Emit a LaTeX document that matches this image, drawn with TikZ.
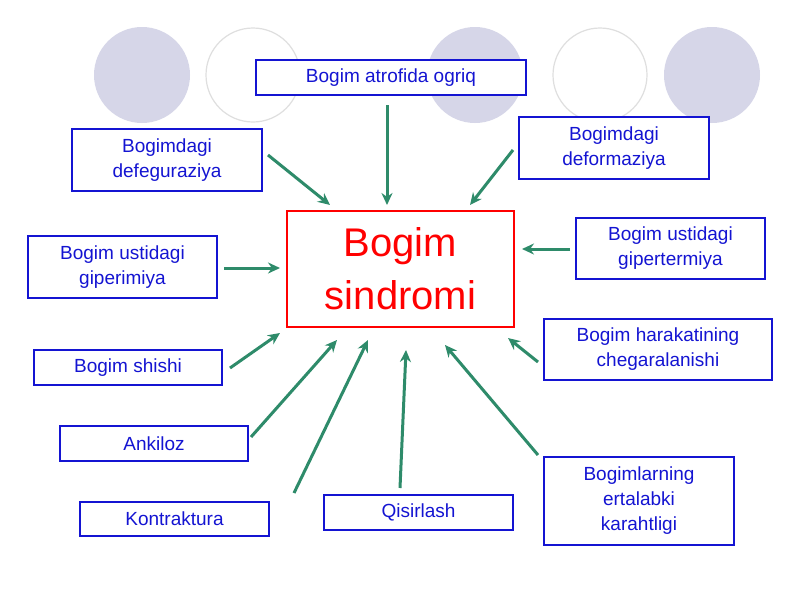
\documentclass[tikz,border=0pt]{standalone}
\usepackage{fontspec}
\setmainfont{Liberation Sans}
\usetikzlibrary{arrows.meta}
\definecolor{bl}{RGB}{20,20,210}
\definecolor{gr}{RGB}{46,139,106}
\definecolor{lav}{RGB}{214,214,232}
\tikzset{
 bx/.style={draw=bl,fill=white,line width=1.3pt,text=bl,align=center,font=\fontsize{19}{25}\selectfont},
 ar/.style={draw=gr,line width=3pt,-{Stealth[length=12pt,width=11pt]}},
}
\begin{document}
\begin{tikzpicture}[x=1pt,y=-1pt]
\useasboundingbox (0,0) rectangle (800,600);
\fill[white] (0,0) rectangle (800,600);
\fill[lav] (142,75) circle (48) (475,75) circle (48) (712,75) circle (48);
\draw[gray!25,line width=1.2pt] (253,75) circle (47) (600,75) circle (47);
\def\B#1#2#3#4#5#6{\node[bx,minimum width=#3-#1,minimum height=#4-#2] (#5) at ({(#1+#3)/2},{(#2+#4)/2}) {#6};}
\B{256}{60}{526}{95}{a}{Bogim atrofida ogriq}
\B{72}{129}{262}{191}{b}{Bogimdagi\\defeguraziya}
\B{519}{117}{709}{179}{c}{Bogimdagi\\deformaziya}
\node[draw=red,fill=white,line width=1.6pt,text=red,align=center,font=\fontsize{40}{53}\selectfont,minimum width=227,minimum height=116] (m) at (400.5,269) {Bogim\\sindromi};
\B{28}{236}{217}{298}{d}{Bogim ustidagi\\giperimiya}
\B{576}{218}{765}{279}{e}{Bogim ustidagi\\gipertermiya}
\B{34}{350}{222}{385}{f}{Bogim shishi}
\B{544}{319}{772}{380}{g}{Bogim harakatining\\chegaralanishi}
\B{60}{426}{248}{461}{h}{Ankiloz}
\B{80}{502}{269}{536}{i}{Kontraktura}
\B{324}{495}{513}{530}{j}{Qisirlash}
\B{544}{457}{734}{545}{k}{Bogimlarning\\ertalabki\\karahtligi}
\foreach \n/\x/\y/\u/\v in {1/387/105/387/205, 2/268/155/330/205, 3/513/150/470/205, 4/224/268/280/268, 5/570/249/522/249, 6/230/368/280/333, 7/538/362/508/338, 8/251/437/337/340, 9/294/493/368/340, 10/400/488/406/350, 11/538/455/445/345}{
 \coordinate (s\n) at (\x,\y); \coordinate (t\n) at (\u,\v);
 \draw[ar] (s\n) -- (t\n);}
\end{tikzpicture}
\end{document}
